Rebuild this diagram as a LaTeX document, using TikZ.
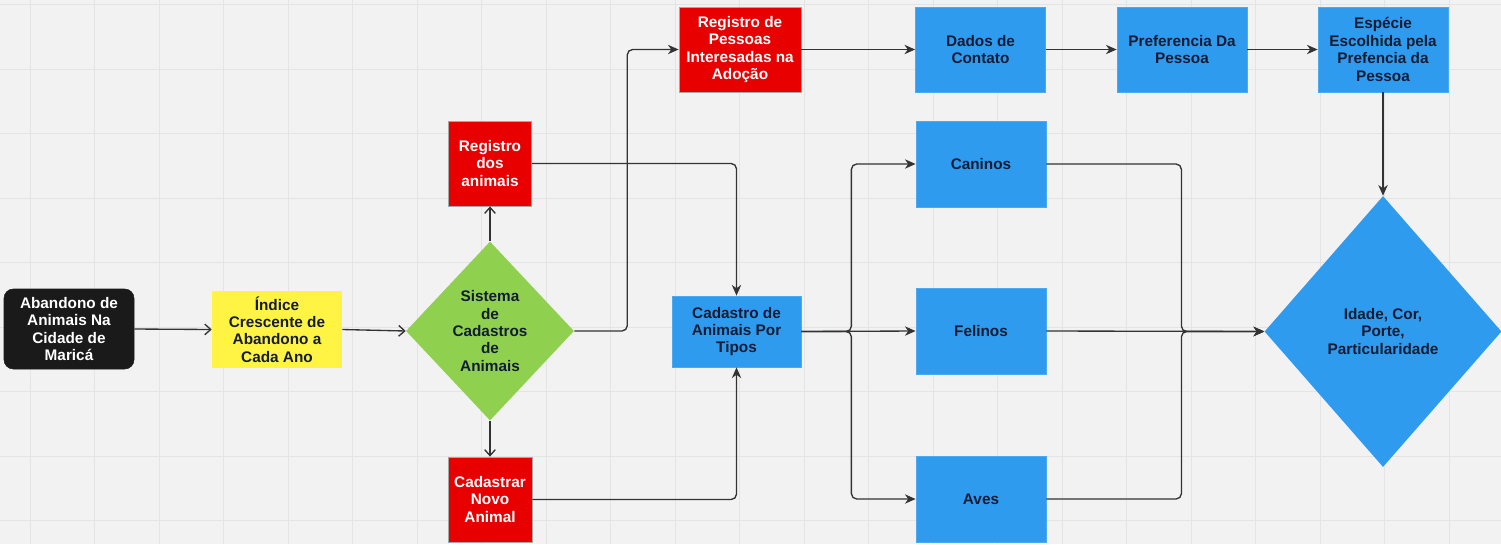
\documentclass[tikz,border=0pt]{standalone}
\usepackage{fontspec}
\setmainfont{Liberation Sans}
\usetikzlibrary{shapes.geometric,arrows.meta}
\definecolor{bggrey}{HTML}{F2F2F2}
\definecolor{gridgrey}{HTML}{E4E4E4}
\definecolor{startblack}{HTML}{1A1A1A}
\definecolor{boxyellow}{HTML}{FFF444}
\definecolor{boxgreen}{HTML}{8FD14F}
\definecolor{boxred}{HTML}{E80000}
\definecolor{boxblue}{HTML}{2E9BEF}
\definecolor{darktext}{HTML}{141C33}
\definecolor{linegrey}{HTML}{333333}

\begin{document}
\begin{tikzpicture}[
x=0.75pt,
y=-0.75pt,
box/.style={
  rectangle,
  align=center,
  inner sep=2pt,
  font=\fontsize{11.5}{13.1}\selectfont\bfseries
  },
start/.style={
  box,
  fill=startblack,
  draw=startblack,
  rounded corners=7pt,
  text=white,
  minimum width=97.5pt,
  minimum height=60pt
  },
yellowbox/.style={
  box,
  fill=boxyellow,
  text=darktext,
  minimum width=97.5pt,
  minimum height=57.75pt
  },
redbox/.style={
  box,
  fill=boxred,
  draw=gray!70,
  line width=0.6pt,
  text=white,
  minimum height=63.75pt
  },
bluebox/.style={
  box,
  fill=boxblue,
  draw=boxblue!85!white,
  line width=0.6pt,
  text=darktext,
  minimum width=97.5pt,
  minimum height=63.75pt
  },
decision/.style={
  box,
  diamond,
  inner sep=0pt,
  text=darktext
  },
gridline/.style={
  draw=gridgrey,
  line width=0.75pt
  },
line/.style={
  draw=linegrey,
  line width=1pt,
  rounded corners=4pt
  },
openarrow/.style={
  line,
  -{Straight Barb[length=4.5pt,width=8pt]}
  },
>={Stealth[length=8pt,width=7pt,inset=2.5pt]}
]
\useasboundingbox (0,0) rectangle (1501,544);
\fill[bggrey] (0,0) rectangle (1501,544);
\foreach \gx in {0,...,22}
  \draw[gridline] ({30+64.5*\gx},0) -- ({30+64.5*\gx},544);
\foreach \gy in {0,...,8}
  \draw[gridline] (0,{4.5+64.5*\gy}) -- (1501,{4.5+64.5*\gy});

% left part
\node[start] (aband) at (69,329) {Abandono de\\Animais Na\\Cidade de\\Maricá};
\node[yellowbox] (ind) at (277,329.5) {Índice\\Crescente de\\Abandono a\\Cada Ano};
\node[decision, fill=boxgreen, minimum width=126pt, minimum height=134.25pt]
  (sis) at (490,331) {Sistema\\de\\Cadastros\\de\\Animais};
\node[redbox, minimum width=62.25pt] (reg) at (490,163.5) {Registro\\dos\\animais};
\node[redbox, minimum width=63pt] (novo) at (490,499.5) {Cadastrar\\Novo\\Animal};
\node[redbox, minimum width=91.5pt] (pes) at (740,49.5) {Registro de\\Pessoas\\Interesadas na\\Adoção};
\node[bluebox, minimum width=96.75pt, minimum height=53.25pt]
  (cad) at (736.5,331.5) {Cadastro de\\Animais Por\\Tipos};

% right part
\node[bluebox] (dados) at (980.5,49.5) {Dados de\\Contato};
\node[bluebox] (pref) at (1182,49.5) {Preferencia Da\\Pessoa};
\node[bluebox] (esp) at (1383,49.5) {Espécie\\Escolhida pela\\Prefencia da\\Pessoa};
\foreach \nm/\txt/\yy in {can/Caninos/164, fel/Felinos/331, ave/Aves/499}
  \node[bluebox, minimum height=64.5pt] (\nm) at (981,\yy) {\txt};
\node[decision, fill=boxblue, minimum width=177.75pt, minimum height=203.25pt]
  (idade) at (1383,331.5) {Idade, Cor,\\Porte,\\Particularidade};

% connectors
\draw[openarrow] (aband.east) -- (ind.west);
\draw[openarrow] (ind.east) -- (sis.west);
\draw[openarrow] (sis.north) -- (reg.south);
\draw[openarrow] (sis.south) -- (novo.north);
\draw[line, ->] (sis.east) -- ++(53,0) |- (pes.west);
\draw[line, ->] (reg.east) -| (cad.north);
\draw[line, ->] (novo.east) -| (cad.south);
\draw[line, ->] (pes.east) -- (dados.west);
\draw[line, ->] (dados.east) -- (pref.west);
\draw[line, ->] (pref.east) -- (esp.west);
\draw[line, ->, line width=1.5pt] (esp.south) -- (idade.north);
\foreach \nm in {can,ave}
{
  \draw[line, ->] (cad.east) -- ++(50,0) |- (\nm.west);
  \draw[line, ->] (\nm.east) -- ++(135,0) |- (idade.west);
}
\draw[line, ->] (cad.east) -- (fel.west);
\draw[line, ->] (fel.east) -- (idade.west);
\end{tikzpicture}
\end{document}
